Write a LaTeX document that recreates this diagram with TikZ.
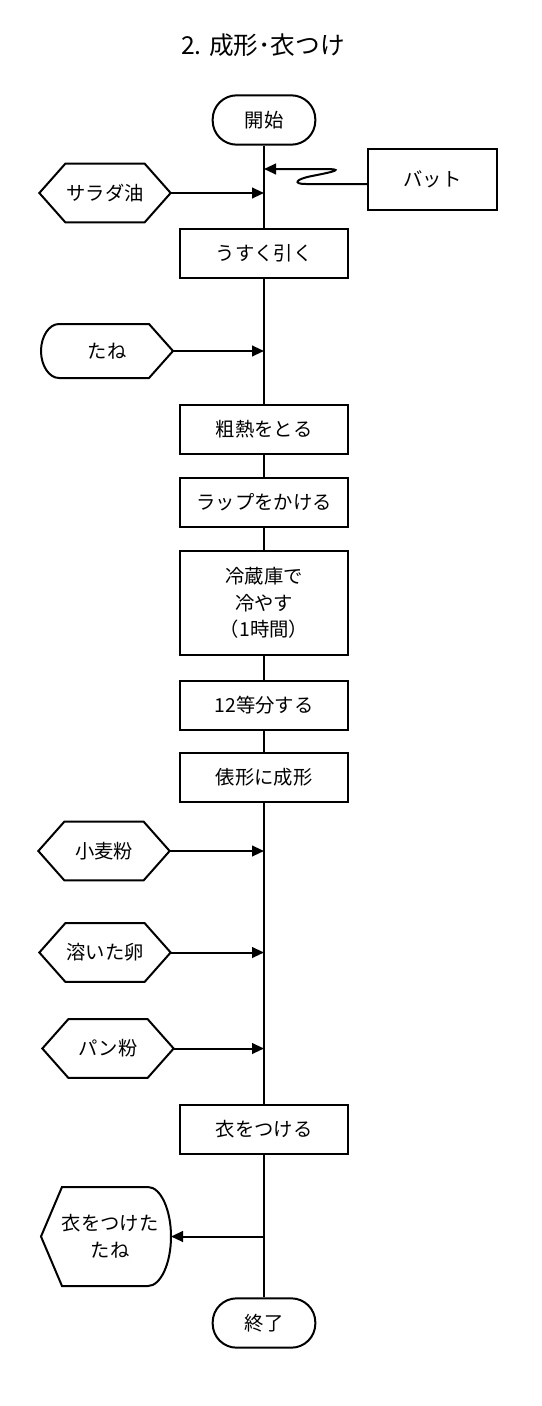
\documentclass[tikz,border=0pt]{standalone}
\usepackage{fontspec}
\setmainfont{Noto Sans CJK JP}
\usetikzlibrary{arrows.meta,calc}
\newcommand\hexpath[1]{\draw ([xshift=19.5pt]#1.north west) -- ([xshift=-19.5pt]#1.north east) -- (#1.east) -- ([xshift=-19.5pt]#1.south east) -- ([xshift=19.5pt]#1.south west) -- (#1.west) -- cycle;}
\begin{document}
\begin{tikzpicture}[x=0.75pt,y=-0.75pt, line width=1.5pt,
  font=\fontsize{14.5}{20}\selectfont,
  proc/.style={draw, minimum width=126pt, minimum height=36.75pt, inner sep=0pt, align=center},
  term/.style={draw, rounded corners=18pt, minimum width=77pt, minimum height=37pt, inner sep=0pt},
  lbl/.style={inner sep=0pt, align=center},
  hexa/.style={lbl, minimum width=97pt, minimum height=42.5pt},
  arr/.style={-{Triangle[length=9pt,width=8pt]}}
]
\useasboundingbox (0,0) rectangle (542,1406);
\node (title) at (263,45) {\fontsize{18.5}{22}\selectfont 2. 成形･衣つけ};

\node[term] (start) at (264,120) {開始};
\node[draw, minimum width=96.75pt, minimum height=45.75pt, inner sep=0pt] (batto) at (432.5,179.5) {バット};
\node[proc] (usuku) at (264,253.5) {うすく引く};
\node[proc] (arane) at (264,429.5) {粗熱をとる};
\node[proc] (wrap) at (264,502) {ラップをかける};
\node[proc, minimum height=78pt] (cool) at (264,603) {冷蔵庫で\\冷やす\\（1時間）};
\node[proc] (div) at (264,705) {12等分する};
\node[proc] (tawara) at (264,777) {俵形に成形};
\node[proc] (koromo) at (264,1129) {衣をつける};
\node[term] (end) at (264,1323) {終了};

% inputs
\node[hexa] (salad) at (105,193) {サラダ油};
\hexpath{salad}
\node[hexa] (komugi) at (104,851) {小麦粉};
\hexpath{komugi}
\node[hexa] (tamago) at (105,952.5) {溶いた卵};
\hexpath{tamago}
\node[hexa] (panko) at (108,1048.5) {パン粉};
\hexpath{panko}

\node[lbl, minimum width=97.5pt, minimum height=39pt] (tane) at (107,351) {たね};
\draw ([xshift=13.5pt]tane.north west) -- ([xshift=-18pt]tane.north east) -- (tane.east)
  -- ([xshift=-18pt]tane.south east) -- ([xshift=13.5pt]tane.south west)
  .. controls ([xshift=6pt]tane.south west) and ([yshift=-10.8pt]tane.west) .. (tane.west)
  .. controls ([yshift=10.8pt]tane.west) and ([xshift=6pt]tane.north west) .. cycle;

\node[lbl, minimum width=96pt, minimum height=72.75pt] (out) at (106,1236.5) {\hspace*{6pt}衣をつけた\\\hspace*{6pt}たね};
\draw ([xshift=15.75pt]out.north west) -- ([xshift=-17.25pt]out.north east)
  .. controls ([xshift=-7.7pt]out.north east) and ([yshift=20pt]out.east) .. (out.east)
  .. controls ([yshift=-20pt]out.east) and ([xshift=-7.7pt]out.south east) .. ([xshift=-17.25pt]out.south east)
  -- ([xshift=15.75pt]out.south west) -- (out.west) -- cycle;

% main flow
\draw (start) -- (usuku);
\draw (usuku) -- (arane);
\draw (arane) -- (wrap);
\draw (wrap) -- (cool);
\draw (cool) -- (div);
\draw (div) -- (tawara);
\draw (tawara) -- (koromo);
\draw (koromo) -- (end);

% input arrows
\draw[arr] (salad) -- (salad -| start);
\draw[arr] (tane) -- (tane -| start);
\draw[arr] (komugi) -- (komugi -| start);
\draw[arr] (tamago) -- (tamago -| start);
\draw[arr] (panko) -- (panko -| start);
\draw[arr] (out -| koromo) -- (out);

% vat squiggle
\coordinate (vatin) at (264,169);
\draw[arr] ([yshift=-3.4pt]batto.west) -- (306,184)
  .. controls (292,184) and (296,179) .. (312,176)
  -- (322,174) .. controls (341,170) and (339,169) .. (322,169) -- (vatin);
\end{tikzpicture}
\end{document}
